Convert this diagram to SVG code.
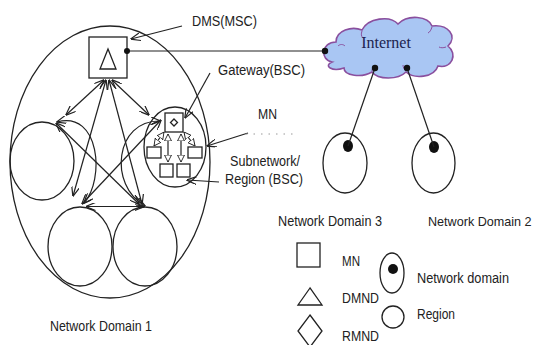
<svg xmlns="http://www.w3.org/2000/svg" width="535" height="345" viewBox="0 0 535 345">
<style>
.ln{fill:none;stroke:#222;stroke-width:1.2}
.sh{fill:none;stroke:#222;stroke-width:1.3}
.tx{font-family:"Liberation Sans",Arial,sans-serif;font-size:14px;fill:#222}
.dot{fill:#111}
</style>
<defs>
<marker id="ah" viewBox="0 0 10 8" refX="9.5" refY="4" markerWidth="10" markerHeight="8" markerUnits="userSpaceOnUse" orient="auto-start-reverse">
<path d="M0,0 L10,4 L0,8" fill="none" stroke="#222" stroke-width="1.2"/>
</marker>
<marker id="aw" viewBox="0 0 10 10" refX="10" refY="5" markerWidth="7" markerHeight="8" markerUnits="userSpaceOnUse" orient="auto-start-reverse">
<path d="M0,0 L10,5 L0,10 Z" fill="#fff" stroke="#222" stroke-width="1.3"/>
</marker>
</defs>
<rect width="535" height="345" fill="#fff"/>

<g id="domain1">
<ellipse class="sh" cx="110" cy="162" rx="100" ry="136"/>
<text class="tx" x="50" y="331" textLength="102" lengthAdjust="spacingAndGlyphs">Network Domain 1</text>
</g>

<g id="dms">
<rect class="sh" x="89" y="37" width="38" height="41"/>
<path class="sh" d="M108,49 L100,69 L116,69 Z"/>
<text class="tx" x="192" y="26" textLength="65" lengthAdjust="spacingAndGlyphs">DMS(MSC)</text>
</g>

<g id="region-left"><ellipse class="sh" cx="42" cy="161" rx="32" ry="39"/></g>
<g id="region-bottom-left"><ellipse class="sh" cx="80" cy="246.5" rx="32" ry="39.5"/></g>
<g id="region-bottom-right"><ellipse class="sh" cx="145" cy="246.5" rx="32" ry="39.5"/></g>

<g id="subnetwork">
<ellipse class="sh" cx="175" cy="147" rx="31" ry="40"/>
<rect class="sh" x="165" y="113" width="18" height="19"/>
<path class="sh" d="M174,119 L177.5,122.5 L174,126 L170.5,122.5 Z"/>
<rect class="sh" x="147" y="147" width="14" height="11"/>
<rect class="sh" x="188" y="147" width="14" height="11"/>
<rect class="sh" x="160" y="164" width="13" height="13"/>
<rect class="sh" x="177" y="164" width="13" height="13"/>
<text class="tx" x="218" y="75" textLength="87" lengthAdjust="spacingAndGlyphs">Gateway(BSC)</text>
<text class="tx" x="258" y="119" textLength="19" lengthAdjust="spacingAndGlyphs">MN</text>
<text class="tx" x="230" y="166" textLength="70" lengthAdjust="spacingAndGlyphs">Subnetwork/</text>
<text class="tx" x="225" y="184" textLength="78" lengthAdjust="spacingAndGlyphs">Region (BSC)</text>
</g>

<g id="internet">
<path d="M332,62 C320,60 321,42 336,42 C336,30 352,26 362,30 C368,18 390,15 398,24 C408,14 428,16 432,26 C448,24 458,36 448,46 C458,54 452,69 438,66 C434,78 414,79 406,72 C398,80 378,80 372,72 C362,78 344,76 344,68 C332,72 323,66 332,62 Z" fill="#a9c6f3" stroke="#8a4f9e" stroke-width="1.6"/>
<path d="M338,46 C340,44 343,44 345,46 M362,31 C361,34 361,36 363,38 M432,27 C431,30 430,32 428,33 M446,47 C443,48 441,48 439,47 M406,71 C404,69 403,67 403,65 M372,71 C372,69 373,67 374,66" fill="none" stroke="#8a4f9e" stroke-width="1"/>
<text x="386" y="48" text-anchor="middle" font-family="'Liberation Serif','Times New Roman',serif" font-size="16" fill="#1c2450">Internet</text>
</g>

<g id="domain3">
<ellipse class="sh" cx="345" cy="163" rx="22" ry="30"/>
<ellipse class="dot" cx="348" cy="146" rx="5" ry="6"/>
<text class="tx" x="278" y="226" textLength="104" lengthAdjust="spacingAndGlyphs">Network Domain 3</text>
</g>
<g id="domain2">
<ellipse class="sh" cx="433.5" cy="163" rx="21.5" ry="30"/>
<ellipse class="dot" cx="434" cy="147" rx="5" ry="6"/>
<text class="tx" x="428" y="226" style="font-size:12.6px">Network Domain 2</text>
</g>

<g id="legend">
<rect class="sh" x="297" y="243" width="23" height="24"/>
<text class="tx" x="342" y="266" textLength="18" lengthAdjust="spacingAndGlyphs">MN</text>
<path class="sh" d="M310,288 L298,305 L322,305 Z"/>
<text class="tx" x="342" y="303" textLength="37" lengthAdjust="spacingAndGlyphs">DMND</text>
<path class="sh" d="M310,315 L322,331 L310,347 L298,331 Z"/>
<text class="tx" x="342" y="341" textLength="37" lengthAdjust="spacingAndGlyphs">RMND</text>
<ellipse class="sh" cx="392" cy="273" rx="12" ry="20"/>
<circle class="dot" cx="393" cy="269" r="5"/>
<text class="tx" x="417" y="283" textLength="92" lengthAdjust="spacingAndGlyphs">Network domain</text>
<circle class="sh" cx="393" cy="317" r="11"/>
<text class="tx" x="417" y="319" textLength="38" lengthAdjust="spacingAndGlyphs">Region</text>
</g>

<g id="connectors">
<line class="ln" x1="127" y1="51" x2="325" y2="51"/>
<circle class="dot" cx="127" cy="51" r="3"/>
<circle class="dot" cx="325" cy="51" r="3.2"/>
<line class="ln" x1="375" y1="68" x2="348" y2="146"/>
<line class="ln" x1="407" y1="68" x2="434" y2="147"/>
<circle class="dot" cx="375" cy="68" r="3.2"/>
<circle class="dot" cx="407" cy="68" r="3.2"/>
<line class="ln" x1="104" y1="80" x2="66" y2="115" marker-start="url(#ah)" marker-end="url(#ah)"/>
<line class="ln" x1="112" y1="80" x2="149" y2="115" marker-start="url(#ah)" marker-end="url(#ah)"/>
<line class="ln" x1="106" y1="80" x2="73" y2="196" marker-start="url(#ah)" marker-end="url(#ah)"/>
<line class="ln" x1="109" y1="80" x2="142" y2="204" marker-start="url(#ah)" marker-end="url(#ah)"/>
<line class="ln" x1="56" y1="123" x2="139" y2="204" marker-start="url(#ah)" marker-end="url(#ah)"/>
<line class="ln" x1="161" y1="120" x2="82" y2="204" marker-start="url(#ah)" marker-end="url(#ah)"/>
<path class="ln" d="M57,122 C100,110 105,180 84,203" marker-start="url(#ah)" marker-end="url(#ah)"/>
<path class="ln" d="M160,121 C115,120 108,185 145,206" marker-start="url(#ah)" marker-end="url(#ah)"/>
<line class="ln" x1="86" y1="206.5" x2="144" y2="206.5" marker-start="url(#ah)" marker-end="url(#ah)" stroke-width="1.8"/>
<line class="ln" x1="168" y1="134" x2="168" y2="162" marker-start="url(#aw)" marker-end="url(#aw)"/>
<line class="ln" x1="181" y1="134" x2="181" y2="162" marker-start="url(#aw)" marker-end="url(#aw)"/>
<line class="ln" x1="164" y1="132" x2="154" y2="146" marker-start="url(#aw)" marker-end="url(#aw)"/>
<line class="ln" x1="184" y1="132" x2="195" y2="146" marker-start="url(#aw)" marker-end="url(#aw)"/>
<line class="ln" x1="182" y1="26" x2="131" y2="39" marker-end="url(#ah)"/>
<line class="ln" x1="210" y1="73" x2="185" y2="118" marker-end="url(#ah)"/>
<line class="ln" x1="248" y1="133" x2="207" y2="146" marker-end="url(#ah)"/>
<line class="ln" x1="219" y1="182" x2="187" y2="180" marker-end="url(#ah)"/>
<line x1="246" y1="134" x2="293" y2="134" stroke="#999" stroke-width="1" stroke-dasharray="1.5,6"/>
</g>
</svg>
